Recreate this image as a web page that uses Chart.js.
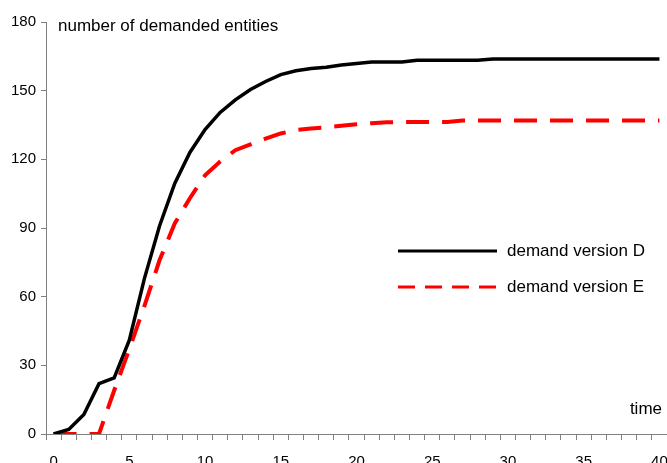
<!DOCTYPE html>
<html>
<head>
<meta charset="utf-8">
<script src="https://cdn.jsdelivr.net/npm/chart.js@4"></script>
<style>
  html, body { margin: 0; padding: 0; background: #fff; overflow: hidden; }
  #wrap { width: 667px; height: 463px; position: relative; }
</style>
</head>
<body>
<div id="wrap"><canvas id="demandChart"></canvas></div>
<script>
// time steps 0..40
const timeSteps = ['0','1','2','3','4','5','6','7','8','9','10','11','12','13','14','15','16','17','18','19','20',
    '21','22','23','24','25','26','27','28','29','30','31','32','33','34','35','36','37','38','39','40'];

// demand version D (black, solid)
const demandD = [0, 2, 8.5, 22, 24.5, 41, 68, 91, 109.5, 123, 133, 140.5, 146, 150.5, 154, 157, 158.7, 159.7, 160.2, 161.2, 161.9,
    162.5, 162.5, 162.5, 163.3, 163.3, 163.3, 163.3, 163.3, 163.8, 163.8, 163.8, 163.8, 163.8, 163.8, 163.8, 163.8, 163.8, 163.8, 163.8, 163.8];

// demand version E (red, dashed)
const demandE = [0, 0, 0, 0, 19, 37, 56, 76, 92, 103, 113, 119, 124, 126.5, 129, 131.3, 132.8, 133.5, 134, 134.7, 135.3,
    135.8, 136.2, 136.3, 136.3, 136.3, 136.3, 137, 137, 137, 137, 137, 137, 137, 137, 137, 137, 137, 137, 137, 137];

const yTicks = [0, 30, 60, 90, 120, 150, 180];

const FONT = "'Liberation Sans', Arial, sans-serif";
const AXIS_GREY = '#808080';

// axis titles + legend drawn inside the plot like the original
const annotations = {
    id: 'annotations',
    afterDraw(chart) {
        const ctx = chart.ctx;
        const a = chart.chartArea;
        ctx.save();
        ctx.fillStyle = '#000';
        ctx.font = '17px ' + FONT;
        ctx.textBaseline = 'middle';
        ctx.textAlign = 'left';
        ctx.fillText('number of demanded entities', a.left + 12, a.top + 4);
        ctx.textAlign = 'right';
        ctx.fillText('time', a.right - 5, a.bottom - 25);

        // legend
        const items = [
            { text: 'demand version D', color: '#000000', dash: [], y: 251 },
            { text: 'demand version E', color: '#ff0000', dash: [17, 10], y: 287 }
        ];
        items.forEach(it => {
            ctx.beginPath();
            ctx.strokeStyle = it.color;
            ctx.lineWidth = 3;
            ctx.setLineDash(it.dash);
            ctx.moveTo(398, it.y);
            ctx.lineTo(497, it.y);
            ctx.stroke();
            ctx.setLineDash([]);
            ctx.textAlign = 'left';
            ctx.fillStyle = '#000';
            ctx.fillText(it.text, 507, it.y);
        });
        ctx.restore();
    }
};

new Chart(document.getElementById('demandChart'), {
    type: 'line',
    data: {
        labels: timeSteps,
        datasets: [{
            label: 'demand version D',
            data: demandD,
            borderColor: '#000000',
            borderWidth: 3.5,
            pointRadius: 0,
            tension: 0,
            fill: false
        }, {
            label: 'demand version E',
            data: demandE,
            borderColor: '#ff0000',
            borderWidth: 4,
            borderDash: [23, 13],
            pointRadius: 0,
            tension: 0,
            fill: false
        }]
    },
    options: {
        responsive: true,
        maintainAspectRatio: false,
        animation: false,
        layout: { padding: { top: 22, right: 0, left: 0, bottom: 0 } },
        scales: {
            x: {
                type: 'category',
                offset: true,
                grid: {
                    offset: true,
                    drawOnChartArea: false,
                    drawTicks: true,
                    tickLength: 6,
                    color: AXIS_GREY
                },
                border: { color: AXIS_GREY, width: 1 },
                ticks: {
                    autoSkip: false,
                    maxRotation: 0,
                    padding: 13,
                    color: '#000',
                    font: { family: FONT, size: 15 },
                    callback: function (value, index) {
                        return index % 5 === 0 ? timeSteps[index] : '';
                    }
                },
                afterFit: function (scale) {
                    scale.height = 29;
                    scale.paddingLeft = 0;
                    scale.paddingRight = 0;
                }
            },
            y: {
                min: 0,
                max: 180,
                afterBuildTicks: function (scale) {
                    scale.ticks = yTicks.map(v => ({ value: v }));
                },
                grid: {
                    drawOnChartArea: false,
                    drawTicks: true,
                    tickLength: 5,
                    color: AXIS_GREY
                },
                border: { color: AXIS_GREY, width: 1 },
                ticks: {
                    padding: 5,
                    color: '#000',
                    font: { family: FONT, size: 15 }
                },
                afterFit: function (scale) { scale.width = 46; }
            }
        },
        plugins: {
            legend: { display: false },
            tooltip: { enabled: false }
        }
    },
    plugins: [annotations]
});
</script>
</body>
</html>
